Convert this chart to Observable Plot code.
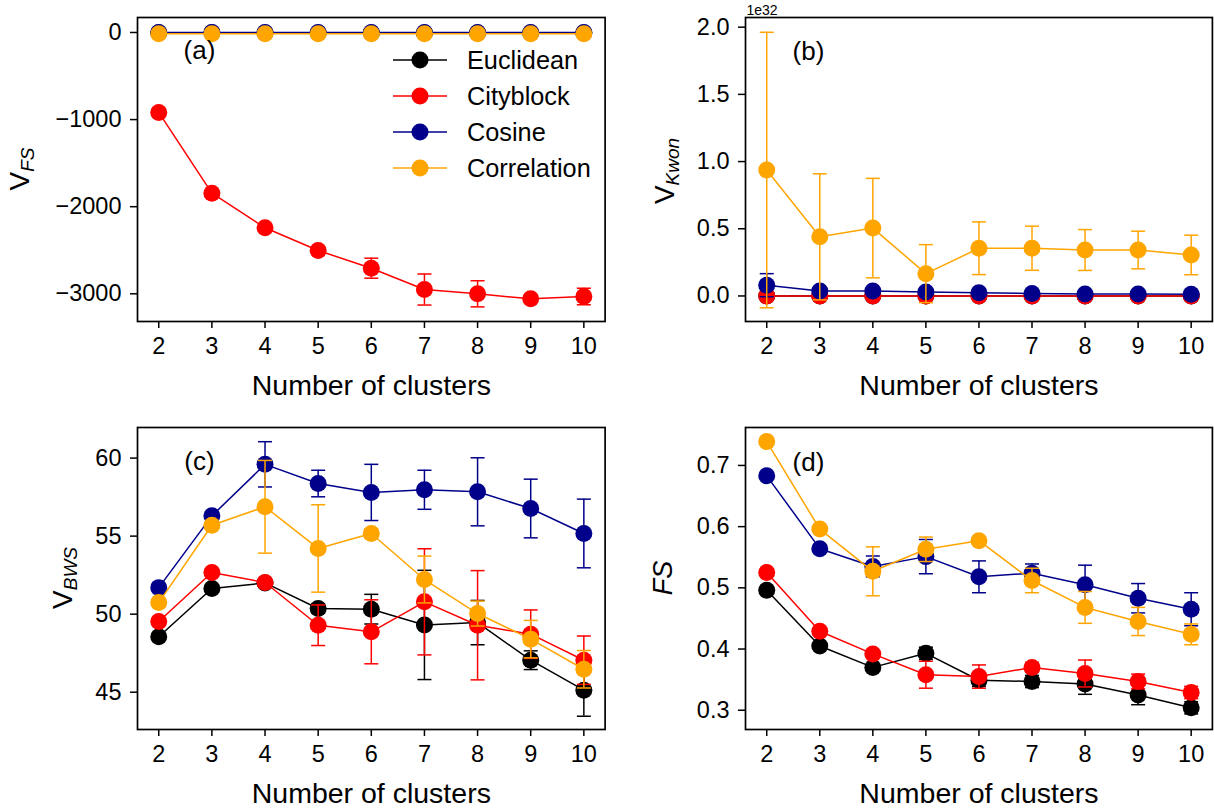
<!DOCTYPE html>
<html>
<head>
<meta charset="utf-8">
<script src="https://cdn.jsdelivr.net/npm/d3@7"></script>
<script src="https://cdn.jsdelivr.net/npm/@observablehq/plot@0.6"></script>
<style>
  html, body { margin: 0; padding: 0; background: #fff; }
  #root { position: relative; width: 1214px; height: 811px; overflow: hidden; font-family: 'Liberation Sans', Arial, sans-serif; color: #000; }
  .panel { position: absolute; }
  .ylab { position: absolute; transform: translate(-50%, -50%) rotate(-90deg); white-space: nowrap; font-size: 28px; line-height: 1; }
  .ylab .sub { font-style: italic; font-size: 19px; position: relative; top: 5px; }
  .leg { position: absolute; display: flex; align-items: center; height: 24px; font-size: 25.3px; white-space: nowrap; }
  .leg svg { display: block; margin-right: 20px; }
</style>
</head>
<body>
<div id="root"></div>
<script>
// ---------------- data ----------------
const clusters = [2, 3, 4, 5, 6, 7, 8, 9, 10];
const methods = ["Euclidean", "Cityblock", "Cosine", "Correlation"];
const methodColors = ["#000000", "#ff0000", "#00008b", "#ffa500"];

// (a) V_FS
const vfsEuclidean      = [-4, -4, -5, -5, -5, -5, -6, -6, -6];
const vfsEuclideanErr   = [0, 0, 0, 0, 0, 0, 0, 0, 0];
const vfsCityblock      = [-918, -1845, -2242, -2503, -2706, -2951, -3000, -3058, -3031];
const vfsCityblockErr   = [15, 20, 30, 40, 115, 178, 150, 40, 95];
const vfsCosine         = [-1, -1, -1, -1, -1, -1, -1, -1, -1];
const vfsCosineErr      = [0, 0, 0, 0, 0, 0, 0, 0, 0];
const vfsCorrelation    = [-15, -15, -15, -15, -15, -15, -15, -15, -15];
const vfsCorrelationErr = [0, 0, 0, 0, 0, 0, 0, 0, 0];
const vfsTicks = [0, -1000, -2000, -3000];

// (b) V_Kwon, in units of 1e32
const kwonEuclidean      = [0, 0, 0, 0, 0, 0, 0, 0, 0];
const kwonEuclideanErr   = [0, 0, 0, 0, 0, 0, 0, 0, 0];
const kwonCityblock      = [0, 0, 0, 0, 0, 0, 0, 0, 0];
const kwonCityblockErr   = [0, 0, 0, 0, 0, 0, 0, 0, 0];
const kwonCosine         = [0.080, 0.037, 0.037, 0.030, 0.024, 0.018, 0.015, 0.015, 0.013];
const kwonCosineErr      = [0.086, 0.008, 0.008, 0.006, 0.005, 0.004, 0.004, 0.004, 0.004];
const kwonCorrelation    = [0.937, 0.440, 0.505, 0.166, 0.355, 0.355, 0.342, 0.342, 0.305];
const kwonCorrelationErr = [1.025, 0.469, 0.370, 0.216, 0.196, 0.164, 0.152, 0.140, 0.147];
const kwonTicks = [0, 0.5, 1.0, 1.5, 2.0];

// (c) V_BWS
const bwsEuclidean      = [48.55, 51.64, 52.00, 50.36, 50.32, 49.31, 49.46, 47.05, 45.13];
const bwsEuclideanErr   = [0.2, 0.2, 0.2, 0.3, 0.95, 3.5, 1.42, 0.6, 1.67];
const bwsCityblock      = [49.53, 52.67, 52.03, 49.29, 48.87, 50.79, 49.29, 48.72, 47.05];
const bwsCityblockErr   = [0.2, 0.2, 0.2, 1.3, 2.05, 3.4, 3.5, 1.55, 1.55];
const bwsCosine         = [51.70, 56.30, 59.60, 58.37, 57.80, 57.97, 57.84, 56.77, 55.17];
const bwsCosineErr      = [0.2, 0.2, 1.45, 0.85, 1.8, 1.25, 2.18, 1.88, 2.2];
const bwsCorrelation    = [50.74, 55.70, 56.88, 54.21, 55.17, 52.22, 50.04, 48.40, 46.47];
const bwsCorrelationErr = [0.2, 0.2, 2.97, 2.8, 0.3, 1.5, 0.8, 1.2, 1.2];
const bwsTicks = [45, 50, 55, 60];

// (d) FS
const fsEuclidean      = [0.496, 0.405, 0.370, 0.393, 0.349, 0.347, 0.343, 0.325, 0.304];
const fsEuclideanErr   = [0.004, 0.004, 0.005, 0.010, 0.010, 0.010, 0.017, 0.016, 0.010];
const fsCityblock      = [0.525, 0.429, 0.392, 0.358, 0.355, 0.370, 0.360, 0.347, 0.329];
const fsCityblockErr   = [0.004, 0.004, 0.005, 0.022, 0.019, 0.008, 0.022, 0.012, 0.010];
const fsCosine         = [0.683, 0.564, 0.535, 0.551, 0.518, 0.524, 0.505, 0.483, 0.465];
const fsCosineErr      = [0.004, 0.004, 0.017, 0.028, 0.026, 0.015, 0.032, 0.024, 0.027];
const fsCorrelation    = [0.739, 0.596, 0.527, 0.563, 0.577, 0.512, 0.468, 0.445, 0.424];
const fsCorrelationErr = [0.004, 0.004, 0.040, 0.020, 0.005, 0.020, 0.026, 0.023, 0.017];
const fsTicks = [0.3, 0.4, 0.5, 0.6, 0.7];

// ---------------- drawing ----------------
const root = document.getElementById("root");

const capSymbol = {
  draw(context) { context.moveTo(-7, 0); context.lineTo(7, 0); }
};

function rowsFor(values, errs) {
  return clusters.map((x, i) => ({x, y: values[i], e: errs[i]}));
}

function seriesMarks(values, errs, color) {
  const rows = rowsFor(values, errs);
  const withErr = rows.filter(d => d.e > 0);
  return [
    Plot.ruleX(withErr, {x: "x", y1: d => d.y - d.e, y2: d => d.y + d.e, stroke: color, strokeWidth: 1.5}),
    Plot.dot(withErr, {x: "x", y: d => d.y + d.e, symbol: capSymbol, r: 7, fill: "none", stroke: color, strokeWidth: 1.5}),
    Plot.dot(withErr, {x: "x", y: d => d.y - d.e, symbol: capSymbol, r: 7, fill: "none", stroke: color, strokeWidth: 1.5}),
    Plot.line(rows, {x: "x", y: "y", stroke: color, strokeWidth: 1.5}),
    Plot.dot(rows, {x: "x", y: "y", r: 8.5, fill: color, stroke: "none"})
  ];
}

function makePanel(cfg) {
  const marks = [];
  cfg.series.forEach(([vals, errs], i) => marks.push(...seriesMarks(vals, errs, methodColors[i])));
  marks.push(
    Plot.axisX({ticks: clusters, tickFormat: d => String(d), tickSize: 7, tickPadding: 9, strokeWidth: 1.5, label: null}),
    Plot.axisY({ticks: cfg.ticks, tickFormat: cfg.format, tickSize: 7, tickPadding: 9, strokeWidth: 1.5, label: null}),
    Plot.text([cfg.tag], {frameAnchor: "top-left", lineAnchor: "middle", dx: cfg.tagDx, dy: cfg.tagDy, textAnchor: "middle", fontSize: 26}),
    Plot.text(["Number of clusters"], {frameAnchor: "bottom", lineAnchor: "middle", dy: 64, fontSize: 28.5}),
    Plot.frame({stroke: "black", strokeWidth: 1.7})
  );
  if (cfg.extra) marks.push(...cfg.extra);
  const svg = Plot.plot({
    width: cfg.width, height: cfg.height,
    marginLeft: cfg.ml, marginRight: cfg.mr, marginTop: cfg.mt, marginBottom: cfg.mb,
    x: {domain: [1.6, 10.4]},
    y: {domain: cfg.domain},
    style: {fontFamily: "'Liberation Sans', Arial, sans-serif", fontSize: "23.5px", background: "transparent", color: "black", overflow: "visible"},
    marks
  });
  const div = document.createElement("div");
  div.className = "panel";
  div.style.left = cfg.left + "px";
  div.style.top = cfg.top + "px";
  div.appendChild(svg);
  root.appendChild(div);
}

function yLabel(main, sub, cx, cy, italicMain) {
  const d = document.createElement("div");
  d.className = "ylab";
  d.style.left = cx + "px";
  d.style.top = cy + "px";
  const m = document.createElement("span");
  m.textContent = main;
  if (italicMain) { m.style.fontStyle = "italic"; m.style.fontSize = "27px"; }
  d.appendChild(m);
  if (sub) {
    const s = document.createElement("span");
    s.className = "sub";
    s.textContent = sub;
    d.appendChild(s);
  }
  root.appendChild(d);
}

const fmtInt = d3.format("d");
const fmt1 = d3.format(".1f");

makePanel({
  left: 0, top: 0, width: 607, height: 405, ml: 137, mr: 2.4, mt: 17, mb: 84,
  domain: [-3318, 172], ticks: vfsTicks, format: fmtInt, tag: "(a)", tagDx: 62, tagDy: 33,
  series: [[vfsEuclidean, vfsEuclideanErr], [vfsCityblock, vfsCityblockErr], [vfsCosine, vfsCosineErr], [vfsCorrelation, vfsCorrelationErr]]
});
makePanel({
  left: 607, top: 0, width: 607, height: 405, ml: 138, mr: 2.1, mt: 17, mb: 84,
  domain: [-0.19, 2.072], ticks: kwonTicks, format: fmt1, tag: "(b)", tagDx: 63, tagDy: 34,
  series: [[kwonEuclidean, kwonEuclideanErr], [kwonCityblock, kwonCityblockErr], [kwonCosine, kwonCosineErr], [kwonCorrelation, kwonCorrelationErr]],
  extra: [Plot.text(["1e32"], {frameAnchor: "top-left", lineAnchor: "bottom", dx: 1, dy: -3, textAnchor: "start", fontSize: 14})]
});
makePanel({
  left: 0, top: 405, width: 607, height: 406, ml: 137, mr: 2.4, mt: 22, mb: 82,
  domain: [42.61, 61.96], ticks: bwsTicks, format: fmtInt, tag: "(c)", tagDx: 62, tagDy: 34,
  series: [[bwsEuclidean, bwsEuclideanErr], [bwsCityblock, bwsCityblockErr], [bwsCosine, bwsCosineErr], [bwsCorrelation, bwsCorrelationErr]]
});
makePanel({
  left: 607, top: 405, width: 607, height: 406, ml: 138, mr: 2.1, mt: 22, mb: 82,
  domain: [0.2685, 0.762], ticks: fsTicks, format: fmt1, tag: "(d)", tagDx: 63, tagDy: 35,
  series: [[fsEuclidean, fsEuclideanErr], [fsCityblock, fsCityblockErr], [fsCosine, fsCosineErr], [fsCorrelation, fsCorrelationErr]]
});

yLabel("V", "FS", 20, 169);
yLabel("V", "Kwon", 665, 171);
yLabel("V", "BWS", 63, 578);
yLabel("FS", null, 663, 578, true);

// legend inside panel (a)
const legendRowsY = [60, 96, 132.3, 168.3];
methods.forEach((name, i) => {
  const row = document.createElement("div");
  row.className = "leg";
  row.style.left = "393px";
  row.style.top = (legendRowsY[i] - 12) + "px";
  const ns = "http://www.w3.org/2000/svg";
  const sw = document.createElementNS(ns, "svg");
  sw.setAttribute("width", "54"); sw.setAttribute("height", "24");
  const ln = document.createElementNS(ns, "line");
  ln.setAttribute("x1", "0"); ln.setAttribute("x2", "54"); ln.setAttribute("y1", "12"); ln.setAttribute("y2", "12");
  ln.setAttribute("stroke", methodColors[i]); ln.setAttribute("stroke-width", "1.5");
  const c = document.createElementNS(ns, "circle");
  c.setAttribute("cx", "27"); c.setAttribute("cy", "12"); c.setAttribute("r", "8.5");
  c.setAttribute("fill", methodColors[i]);
  sw.appendChild(ln); sw.appendChild(c);
  const t = document.createElement("span");
  t.textContent = name;
  row.appendChild(sw); row.appendChild(t);
  root.appendChild(row);
});
</script>
</body>
</html>
